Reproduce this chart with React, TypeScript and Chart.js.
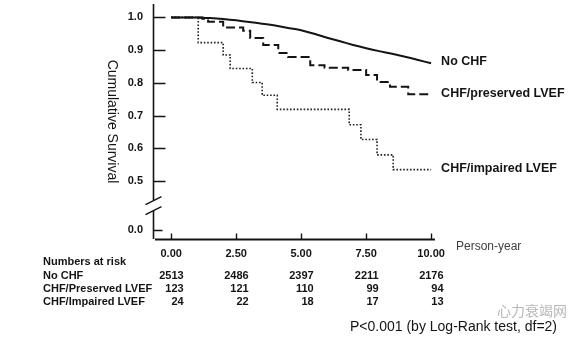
import React, { useEffect, useRef } from "react";
import { Chart, registerables } from "chart.js";

Chart.register(...registerables);

// ---------- data ----------
const seriesNames = ["No CHF", "CHF/preserved LVEF", "CHF/impaired LVEF"];

const noChfYears = [0, 1.0, 1.5, 2, 2.5, 3, 3.5, 4, 4.5, 5, 5.5, 6, 6.5, 7, 7.5, 8, 8.5, 9, 9.5, 10];
const noChfSurvival = [1, 1, 0.998, 0.995, 0.991, 0.986, 0.981, 0.975, 0.968, 0.961, 0.95, 0.938, 0.927, 0.916, 0.906, 0.897, 0.889, 0.88, 0.87, 0.86];

const preservedYears = [0, 1.2, 1.42, 2.0, 2.77, 3.04, 3.54, 4.12, 4.5, 5.35, 5.9, 6.81, 7.5, 7.92, 8.42, 9.12, 10];
const preservedSurvival = [1.0, 0.996, 0.987, 0.969, 0.959, 0.937, 0.916, 0.891, 0.879, 0.854, 0.846, 0.839, 0.824, 0.803, 0.788, 0.765, 0.762];

const impairedYears = [0, 1.04, 2.0, 2.27, 3.12, 3.5, 4.08, 6.85, 7.3, 7.92, 8.54, 10];
const impairedSurvival = [1.0, 0.923, 0.885, 0.844, 0.801, 0.762, 0.719, 0.672, 0.627, 0.58, 0.535, 0.535];

const xTickValues = [0, 2.5, 5, 7.5, 10];
const xTickLabels = ["0.00", "2.50", "5.00", "7.50", "10.00"];

// the axis is broken: "0.0" is drawn just below the break
const brokenZeroValue = 0.352;
const breakValue = 0.425;
const yTickValues = [brokenZeroValue, 0.5, 0.6, 0.7, 0.8, 0.9, 1.0];
const yTickLabels = ["0.0", "0.5", "0.6", "0.7", "0.8", "0.9", "1.0"];

const riskRowLabels = ["No CHF", "CHF/Preserved LVEF", "CHF/Impaired LVEF"];
const riskNoChf = [2513, 2486, 2397, 2211, 2176];
const riskPreserved = [123, 121, 110, 99, 94];
const riskImpaired = [24, 22, 18, 17, 13];

const yTitle = "Cumulative Survival";
const xTitle = "Person-year";
const riskTitle = "Numbers at risk";
const pValueText = "P<0.001 (by Log-Rank test, df=2)";
const watermarkText = "心力衰竭网";

// ---------- styling ----------
const FONT = "'Liberation Sans', Arial, Helvetica, sans-serif";
const INK = "#141414";

const toPoints = (xs: number[], ys: number[]) => xs.map((x, i) => ({ x, y: ys[i] }));

const zeroPadding = (scale: any) => {
  scale.paddingTop = 0;
  scale.paddingBottom = 0;
  scale.paddingLeft = 0;
  scale.paddingRight = 0;
};

const overlayPlugin = {
  id: "kmOverlay",
  afterDraw(chart: any) {
    const { ctx, chartArea, scales } = chart;
    const xs = scales.x;
    const ys = scales.y;
    ctx.save();
    ctx.strokeStyle = INK;
    ctx.fillStyle = INK;
    ctx.lineCap = "butt";

    // y axis with break
    const axX = chartArea.left + 0.5;
    const breakY = ys.getPixelForValue(breakValue);
    ctx.lineWidth = 1.6;
    ctx.beginPath();
    ctx.moveTo(axX, chartArea.top);
    ctx.lineTo(axX, breakY - 5);
    ctx.moveTo(axX, breakY + 5);
    ctx.lineTo(axX, chartArea.bottom);
    ctx.stroke();
    ctx.lineWidth = 1.4;
    ctx.beginPath();
    for (const dy of [-5, 5]) {
      ctx.moveTo(axX - 8, breakY + dy + 4);
      ctx.lineTo(axX + 8, breakY + dy - 4);
    }
    ctx.stroke();

    // y ticks (inward)
    ctx.lineWidth = 1.6;
    ctx.beginPath();
    yTickValues.forEach((v) => {
      const py = Math.round(ys.getPixelForValue(v)) + 0.5;
      ctx.moveTo(axX, py);
      ctx.lineTo(axX + (v === brokenZeroValue ? 9 : 12), py);
    });
    ctx.stroke();

    // x axis
    const axY = chartArea.bottom + 0.5;
    ctx.lineWidth = 1.8;
    ctx.beginPath();
    ctx.moveTo(chartArea.left + 2, axY);
    ctx.lineTo(chartArea.right, axY);
    ctx.stroke();
    ctx.lineWidth = 1.4;
    ctx.beginPath();
    xTickValues.forEach((v) => {
      const px = Math.round(xs.getPixelForValue(v)) + 0.5;
      ctx.moveTo(px, axY);
      ctx.lineTo(px, axY - 6);
    });
    ctx.stroke();

    // y axis title (reads top to bottom)
    ctx.save();
    ctx.translate(112, (chartArea.top + chartArea.bottom) / 2);
    ctx.rotate(Math.PI / 2);
    ctx.font = `14px ${FONT}`;
    ctx.textAlign = "center";
    ctx.textBaseline = "middle";
    ctx.fillText(yTitle, 0, 0);
    ctx.restore();

    // curve labels
    const ends = [
      noChfSurvival[noChfSurvival.length - 1],
      preservedSurvival[preservedSurvival.length - 1],
      impairedSurvival[impairedSurvival.length - 1],
    ];
    ctx.font = `bold 12.5px ${FONT}`;
    ctx.textAlign = "left";
    ctx.textBaseline = "middle";
    const labelX = xs.getPixelForValue(10) + 10;
    seriesNames.forEach((name, i) => {
      ctx.fillText(name, labelX, ys.getPixelForValue(ends[i]) - 1.5);
    });

    // x title
    ctx.fillStyle = "#404040";
    ctx.font = `12px ${FONT}`;
    ctx.fillText(xTitle, 456, 247);

    // numbers at risk
    ctx.fillStyle = INK;
    ctx.font = `bold 11px ${FONT}`;
    ctx.textAlign = "left";
    ctx.fillText(riskTitle, 43, 262);
    const rowY = [276, 289, 301.5];
    const rows = [riskNoChf, riskPreserved, riskImpaired];
    riskRowLabels.forEach((lab, i) => {
      ctx.textAlign = "left";
      ctx.fillText(lab, 43, rowY[i]);
      ctx.textAlign = "right";
      rows[i].forEach((n, j) => {
        ctx.fillText(String(n), xs.getPixelForValue(xTickValues[j]) + 12.5, rowY[i]);
      });
    });

    // watermark
    ctx.fillStyle = "#b8b8b8";
    ctx.font = `14px 'Noto Sans CJK SC', sans-serif`;
    ctx.textAlign = "left";
    ctx.fillText(watermarkText, 497, 311);

    // p value
    ctx.fillStyle = INK;
    ctx.font = `14px ${FONT}`;
    ctx.textAlign = "left";
    ctx.fillText(pValueText, 350, 327);

    ctx.restore();
  },
};

export default function App() {
  const canvasRef = useRef<HTMLCanvasElement | null>(null);

  useEffect(() => {
    if (!canvasRef.current) return;
    const chart = new Chart(canvasRef.current, {
      type: "line",
      data: {
        datasets: [
          {
            label: seriesNames[0],
            data: toPoints(noChfYears, noChfSurvival),
            borderColor: INK,
            borderWidth: 2,
            pointRadius: 0,
            tension: 0.2,
            fill: false,
          },
          {
            label: seriesNames[1],
            data: toPoints(preservedYears, preservedSurvival),
            borderColor: INK,
            borderWidth: 2,
            borderDash: [9, 4],
            pointRadius: 0,
            stepped: "before",
            fill: false,
          },
          {
            label: seriesNames[2],
            data: toPoints(impairedYears, impairedSurvival),
            borderColor: "#222",
            borderWidth: 1.6,
            borderDash: [1.6, 1.8],
            pointRadius: 0,
            stepped: "before",
            fill: false,
          },
        ],
      },
      options: {
        animation: false,
        responsive: false,
        events: [],
        layout: { padding: { left: 0, top: 4, right: 150, bottom: 0 } },
        plugins: {
          legend: { display: false },
          tooltip: { enabled: false },
          title: { display: false },
        },
        scales: {
          x: {
            type: "linear",
            min: -0.7,
            max: 10.15,
            grid: { display: false, drawTicks: false },
            border: { display: false },
            afterBuildTicks: (scale: any) => {
              scale.ticks = xTickValues.map((v) => ({ value: v }));
            },
            afterFit: (scale: any) => {
              scale.height = 103;
              zeroPadding(scale);
            },
            ticks: {
              padding: 8,
              maxRotation: 0,
              autoSkip: false,
              color: INK,
              font: { family: FONT, size: 11, weight: "bold" },
              callback: (_v: any, i: number) => xTickLabels[i],
            },
          },
          y: {
            type: "linear",
            min: 0.323,
            max: 1.041,
            grid: { display: false, drawTicks: false },
            border: { display: false },
            afterBuildTicks: (scale: any) => {
              scale.ticks = yTickValues.map((v) => ({ value: v }));
            },
            afterFit: (scale: any) => {
              scale.width = 153;
              zeroPadding(scale);
            },
            ticks: {
              padding: 10,
              autoSkip: false,
              color: INK,
              font: { family: FONT, size: 11, weight: "bold" },
              callback: (_v: any, i: number) => yTickLabels[i],
            },
          },
        },
      },
      plugins: [overlayPlugin],
    } as any);
    return () => chart.destroy();
  }, []);

  return (
    <div style={{ position: "fixed", left: 0, top: 0, width: 585, height: 342, background: "#fff" }}>
      <canvas ref={canvasRef} width={585} height={342} style={{ width: 585, height: 342, display: "block" }} />
    </div>
  );
}
